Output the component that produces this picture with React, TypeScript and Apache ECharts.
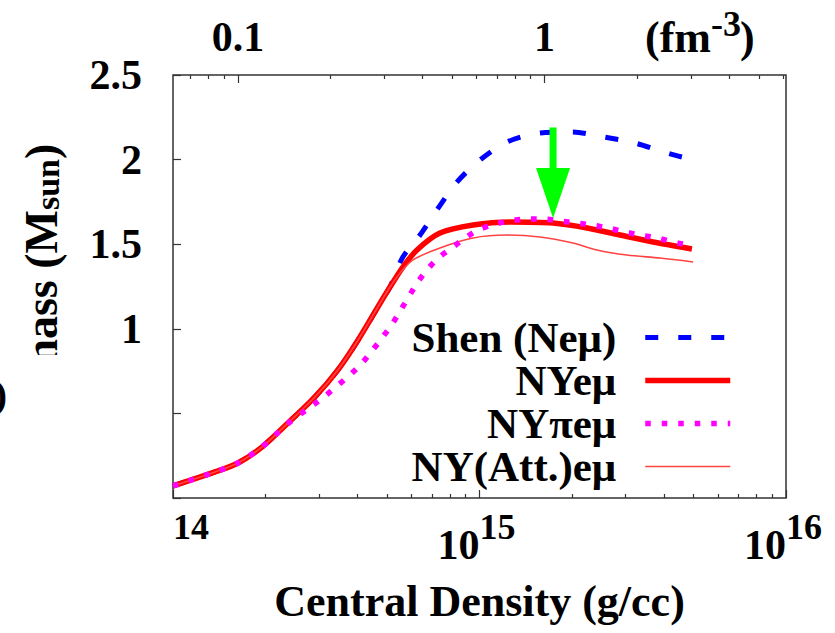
import React, { useEffect, useRef } from 'react';
import * as echarts from 'echarts';

const FONT = '"Liberation Serif", "Times New Roman", Times, serif';

// log10 of central density (g/cc) and maximum mass (M_sun)
const shenLogRho = [14.0, 14.137, 14.212, 14.29, 14.375, 14.463, 14.538, 14.604, 14.682, 14.708, 14.75, 14.806, 14.861, 14.927, 15.002, 15.09, 15.197, 15.302, 15.403, 15.507, 15.612, 15.697];
const shenMass = [0.071, 0.154, 0.207, 0.301, 0.443, 0.597, 0.757, 0.934, 1.17, 1.247, 1.424, 1.554, 1.702, 1.868, 1.998, 2.104, 2.157, 2.163, 2.134, 2.098, 2.039, 1.998];

const nyLogRho = [14.0, 14.137, 14.212, 14.29, 14.375, 14.463, 14.538, 14.604, 14.682, 14.708, 14.75, 14.796, 14.871, 14.979, 15.1, 15.24, 15.351, 15.458, 15.566, 15.693];
const nyMass = [0.071, 0.154, 0.207, 0.301, 0.443, 0.597, 0.757, 0.934, 1.17, 1.247, 1.365, 1.466, 1.566, 1.613, 1.631, 1.625, 1.596, 1.554, 1.513, 1.472];

const nyPiLogRho = [14.0, 14.137, 14.212, 14.29, 14.375, 14.453, 14.496, 14.535, 14.577, 14.617, 14.649, 14.682, 14.715, 14.741, 14.799, 14.829, 14.865, 14.91, 14.953, 14.995, 15.051, 15.1, 15.155, 15.207, 15.263, 15.318, 15.367, 15.419, 15.475, 15.524, 15.579, 15.631, 15.68];
const nyPiMass = [0.071, 0.154, 0.207, 0.301, 0.44, 0.544, 0.603, 0.662, 0.727, 0.798, 0.869, 0.946, 1.028, 1.105, 1.277, 1.348, 1.418, 1.478, 1.537, 1.584, 1.619, 1.637, 1.649, 1.649, 1.637, 1.625, 1.613, 1.596, 1.572, 1.554, 1.537, 1.513, 1.495];

const nyAttLogRho = [14.0, 14.137, 14.212, 14.29, 14.375, 14.463, 14.538, 14.604, 14.682, 14.708, 14.741, 14.783, 14.871, 14.979, 15.09, 15.197, 15.305, 15.383, 15.481, 15.589, 15.697];
const nyAttMass = [0.071, 0.154, 0.207, 0.301, 0.443, 0.597, 0.757, 0.934, 1.17, 1.247, 1.33, 1.407, 1.478, 1.537, 1.554, 1.543, 1.507, 1.466, 1.436, 1.418, 1.395];

const seriesNames = ['Shen (Neμ)', 'NYeμ', 'NYπeμ', 'NY(Att.)eμ'];

// axes
const yTickValues = [0, 0.5, 1, 1.5, 2, 2.5];
const yTickLabels = ['0', '0.5', '1', '1.5', '2', '2.5'];
const bottomMajorExp = [14, 15, 16];
const bottomBaseLabel = '10';
const bottomExpLabels = ['14', '15', '16'];
const bottomMinorMult = [2, 3, 4, 5, 6, 7, 8, 9];
const bottomMinorDecades = [14, 15];
const topMajorDensity = [0.1, 1];
const topMajorLabels = ['0.1', '1'];
const topMinorDensity = [0.07, 0.08, 0.09, 0.2, 0.3, 0.4, 0.5, 0.6, 0.7, 0.8, 0.9, 2, 3, 4, 5, 6];
const gPerCcPerFm3 = 1.63e15;

// arrow annotation (log10 rho, mass)
const arrowTip = [15.24, 1.655];
const arrowTail = [15.24, 2.19];

const pairs = (xs: number[], ys: number[]) => xs.map((x, i) => [x, ys[i]]);

export default function App() {
  const ref = useRef<HTMLDivElement>(null);
  useEffect(() => {
    if (!ref.current) return;
    const chart = echarts.init(ref.current, undefined, { renderer: 'svg' });
    const off = Math.log10(gPerCcPerFm3);
    const bottomMinor: number[] = [];
    bottomMinorDecades.forEach((d) => bottomMinorMult.forEach((k) => bottomMinor.push(d + Math.log10(k))));
    const topMajor = topMajorDensity.map((v) => Math.log10(v));
    const topMinor = topMinorDensity.map((v) => Math.log10(v));
    const tickColor = '#333';
    const baseLabel = { fontFamily: FONT, fontWeight: 'bold' as const, color: '#000' };
    const idx = (arr: number[], v: number) => arr.findIndex((t) => Math.abs(t - v) < 1e-6);

    const hiddenLine = { show: false, onZero: false };
    chart.setOption({
      animation: false,
      backgroundColor: '#fff',
      grid: { left: 173, right: 49, top: 75, bottom: 135, show: true, borderColor: '#333', borderWidth: 1.5, backgroundColor: 'transparent' },
      legend: {
        orient: 'vertical',
        right: 102,
        top: 316,
        align: 'right',
        itemWidth: 85,
        itemHeight: 14,
        itemGap: 0,
        padding: 0,
        selectedMode: false,
        itemStyle: { opacity: 0 },
        textStyle: { ...baseLabel, fontSize: 43, lineHeight: 43, padding: [0, 24, 0, 0] },
        data: [
          { name: seriesNames[0], lineStyle: { width: 5, type: [13, 20], color: '#0000ff' } },
          { name: seriesNames[1], lineStyle: { width: 5.5, type: 'solid', color: '#ff0000' } },
          { name: seriesNames[2], lineStyle: { width: 5.5, type: [5.5, 11], color: '#ff00ff' } },
          { name: seriesNames[3], lineStyle: { width: 1.6, type: 'solid', color: '#ff4444' } },
        ],
      },
      xAxis: [
        {
          type: 'value', min: 14, max: 16, position: 'bottom',
          axisLine: hiddenLine, splitLine: { show: false },
          axisTick: { show: true, inside: true, length: 8, customValues: bottomMajorExp, lineStyle: { color: tickColor, width: 1.2 } },
          axisLabel: {
            customValues: bottomMajorExp, margin: 26, showMinLabel: true, showMaxLabel: true,
            ...baseLabel, fontSize: 42, lineHeight: 42, align: 'right',
            formatter: () => bottomBaseLabel,
          },
          name: 'Central Density (g/cc)',
          nameLocation: 'middle',
          nameGap: 81,
          nameTextStyle: { ...baseLabel, fontSize: 44, lineHeight: 44 },
        },
        {
          type: 'value', min: 14 - off, max: 16 - off, position: 'top',
          axisLine: hiddenLine, splitLine: { show: false },
          axisTick: { show: true, inside: true, length: 8, customValues: topMajor, lineStyle: { color: tickColor, width: 1.2 } },
          axisLabel: {
            customValues: topMajor, margin: 17, showMinLabel: true, showMaxLabel: true,
            ...baseLabel, fontSize: 42, lineHeight: 42,
            formatter: (v: number) => {
              const i = idx(topMajor, v);
              return i >= 0 ? topMajorLabels[i] : '';
            },
          },
        },
        {
          type: 'value', min: 14, max: 16, position: 'bottom',
          axisLine: hiddenLine, splitLine: { show: false },
          axisLabel: {
            customValues: bottomMajorExp, margin: 11, showMinLabel: true, showMaxLabel: true,
            ...baseLabel, fontSize: 36, lineHeight: 36, align: 'left',
            formatter: (v: number) => {
              const i = idx(bottomMajorExp, v);
              return i >= 0 ? bottomExpLabels[i] : '';
            },
          },
          axisTick: { show: true, inside: true, length: 4, customValues: bottomMinor, lineStyle: { color: tickColor, width: 1.2 } },
        },
        {
          type: 'value', min: 14 - off, max: 16 - off, position: 'top',
          axisLine: hiddenLine, splitLine: { show: false }, axisLabel: { show: false },
          axisTick: { show: true, inside: true, length: 4, customValues: topMinor, lineStyle: { color: tickColor, width: 1.2 } },
        },
      ],
      yAxis: {
        type: 'value', min: 0, max: 2.5, interval: 0.5,
        axisLine: hiddenLine, splitLine: { show: false },
        axisTick: { show: true, inside: true, length: 8, lineStyle: { color: tickColor, width: 1.2 } },
        axisLabel: {
          ...baseLabel, fontSize: 42, margin: 31,
          formatter: (v: number) => {
            const i = idx(yTickValues, v);
            return i >= 0 ? yTickLabels[i] : '';
          },
        },
        name: '{m|mass (M}{sub|sun}{m|)}',
        nameLocation: 'middle',
        nameRotate: 90,
        nameGap: 109,
        nameTextStyle: {
          ...baseLabel,
          padding: [0, 0, 0, 52],
          rich: {
            m: { ...baseLabel, fontSize: 46, lineHeight: 46, verticalAlign: 'top' },
            sub: { ...baseLabel, fontSize: 34, lineHeight: 34, padding: [18, 0, 0, 0], verticalAlign: 'bottom' },
          },
        },
      },
      series: [
        {
          name: seriesNames[0], type: 'line', xAxisIndex: 0, yAxisIndex: 0, symbol: 'none', smooth: 0.3, z: 2,
          data: pairs(shenLogRho, shenMass),
          lineStyle: { color: '#0000ff', width: 5, type: [13, 20] }, itemStyle: { color: '#0000ff' },
        },
        {
          name: seriesNames[1], type: 'line', xAxisIndex: 0, yAxisIndex: 0, symbol: 'none', smooth: 0.3, z: 3,
          data: pairs(nyLogRho, nyMass),
          lineStyle: { color: '#ff0000', width: 5.5 }, itemStyle: { color: '#ff0000' },
        },
        {
          name: seriesNames[3], type: 'line', xAxisIndex: 0, yAxisIndex: 0, symbol: 'none', smooth: 0.3, z: 4,
          data: pairs(nyAttLogRho, nyAttMass),
          lineStyle: { color: '#ff4444', width: 1.6 }, itemStyle: { color: '#ff4444' },
        },
        {
          name: seriesNames[2], type: 'line', xAxisIndex: 0, yAxisIndex: 0, symbol: 'none', smooth: 0.3, z: 5,
          data: pairs(nyPiLogRho, nyPiMass),
          lineStyle: { color: '#ff00ff', width: 5.5, type: [5.5, 11] }, itemStyle: { color: '#ff00ff' },
        },
      ],
    });

    const tip = chart.convertToPixel({ xAxisIndex: 0, yAxisIndex: 0 }, arrowTip) as number[];
    const tail = chart.convertToPixel({ xAxisIndex: 0, yAxisIndex: 0 }, arrowTail) as number[];
    const headLen = 50;
    const headHalf = 17;
    const shaftHalf = 3.5;
    const unitFont = (size: number) => `bold ${size}px ${FONT}`;
    chart.setOption({
      graphic: [
        { type: 'rect', z: 100, shape: { x: 0, y: 355, width: 172, height: 222 }, style: { fill: '#fff' } },
        { type: 'text', z: 101, x: 7, y: 394, style: { text: ')', font: unitFont(40), fill: '#000', align: 'right', verticalAlign: 'middle' } },
        { type: 'text', z: 101, x: 645, y: 37, style: { text: '(fm', font: unitFont(44), fill: '#000', align: 'left', verticalAlign: 'middle' } },
        { type: 'text', z: 101, x: 711, y: 24, style: { text: '-3', font: unitFont(36), fill: '#000', align: 'left', verticalAlign: 'middle' } },
        { type: 'text', z: 101, x: 740, y: 37, style: { text: ')', font: unitFont(44), fill: '#000', align: 'left', verticalAlign: 'middle' } },
        { type: 'rect', z: 110, shape: { x: tip[0] - shaftHalf, y: tail[1], width: shaftHalf * 2, height: tip[1] - headLen - tail[1] + 1 }, style: { fill: '#00ff00' } },
        { type: 'polygon', z: 110, shape: { points: [[tip[0] - headHalf, tip[1] - headLen], [tip[0] + headHalf, tip[1] - headLen], [tip[0], tip[1]]] }, style: { fill: '#00ff00' } },
      ],
    });

    return () => chart.dispose();
  }, []);
  return <div ref={ref} style={{ position: 'absolute', left: 0, top: 0, width: 835, height: 633 }} />;
}
